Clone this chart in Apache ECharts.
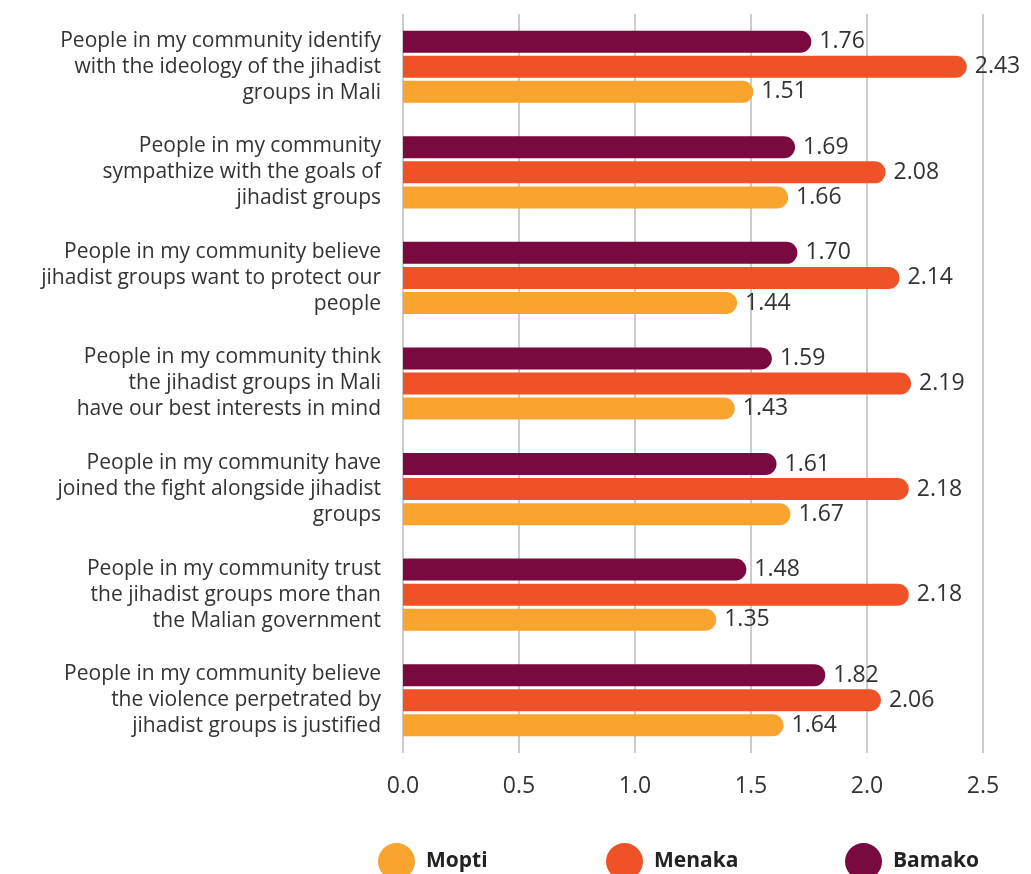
<!DOCTYPE html>
<html>
<head>
<meta charset="utf-8">
<script src="https://cdn.jsdelivr.net/npm/echarts@6/dist/echarts.min.js"></script>
<style>
  html, body { margin: 0; padding: 0; background: #ffffff; }
  #chart { width: 1031px; height: 874px; }
</style>
</head>
<body>
<div id="chart"></div>
<script>
// Survey statements (one category per statement)
const statements = [
  'People in my community identify\nwith the ideology of the jihadist\ngroups in Mali',
  'People in my community\nsympathize with the goals of\njihadist groups',
  'People in my community believe\njihadist groups want to protect our\npeople',
  'People in my community think\nthe jihadist groups in Mali\nhave our best interests in mind',
  'People in my community have\njoined the fight alongside jihadist\ngroups',
  'People in my community trust\nthe jihadist groups more than\nthe Malian government',
  'People in my community believe\nthe violence perpetrated by\njihadist groups is justified'
];

// Mean agreement score per region
const bamako = [1.76, 1.69, 1.70, 1.59, 1.61, 1.48, 1.82];
const menaka = [2.43, 2.08, 2.14, 2.19, 2.18, 2.18, 2.06];
const mopti  = [1.51, 1.66, 1.44, 1.43, 1.67, 1.35, 1.64];

const xTicks = [0, 0.5, 1.0, 1.5, 2.0, 2.5];

const COLORS = { Bamako: '#790a3f', Menaka: '#f05227', Mopti: '#f8a42f' };
const FONT = 'Open Sans';
const TEXT = '#333333';

const chart = echarts.init(document.getElementById('chart'), null, { renderer: 'canvas' });

function barSeries(name, values) {
  return {
    name: name,
    type: 'bar',
    data: values,
    barWidth: 22,
    barGap: '14%',
    itemStyle: { color: COLORS[name], borderRadius: [0, 11, 11, 0] },
    label: {
      show: true,
      position: 'right',
      distance: 8,
      formatter: p => p.value.toFixed(2),
      color: TEXT,
      fontFamily: FONT,
      fontSize: 23
    },
    z: 3
  };
}

function legendAt(name, left) {
  return {
    data: [name],
    left: left,
    top: 843,
    padding: 0,
    icon: 'circle',
    itemWidth: 37,
    itemHeight: 37,
    itemGap: 10,
    textStyle: { fontFamily: FONT, fontSize: 21, fontWeight: 'bold', color: '#222222', padding: [0, 0, 0, 6] }
  };
}

chart.setOption({
  animation: false,
  backgroundColor: '#ffffff',
  grid: { left: 403, right: 48, top: 14, bottom: 121, containLabel: false },
  legend: [legendAt('Mopti', 378), legendAt('Menaka', 606), legendAt('Bamako', 845)],
  xAxis: {
    type: 'value',
    min: 0,
    max: 2.5,
    interval: 0.5,
    axisLine: { show: false },
    axisTick: { show: false },
    splitLine: { show: true, lineStyle: { color: '#cccccc', width: 2 } },
    axisLabel: {
      color: TEXT,
      fontFamily: FONT,
      fontSize: 23,
      margin: 22,
      formatter: v => xTicks.includes(v) ? v.toFixed(1) : ''
    }
  },
  yAxis: {
    type: 'category',
    inverse: true,
    data: statements,
    axisLine: { show: false },
    axisTick: { show: false },
    axisLabel: {
      color: TEXT,
      fontFamily: FONT,
      fontSize: 21,
      lineHeight: 26,
      align: 'right',
      margin: 22
    }
  },
  series: [
    barSeries('Bamako', bamako),
    barSeries('Menaka', menaka),
    barSeries('Mopti', mopti)
  ]
});
</script>
</body>
</html>
